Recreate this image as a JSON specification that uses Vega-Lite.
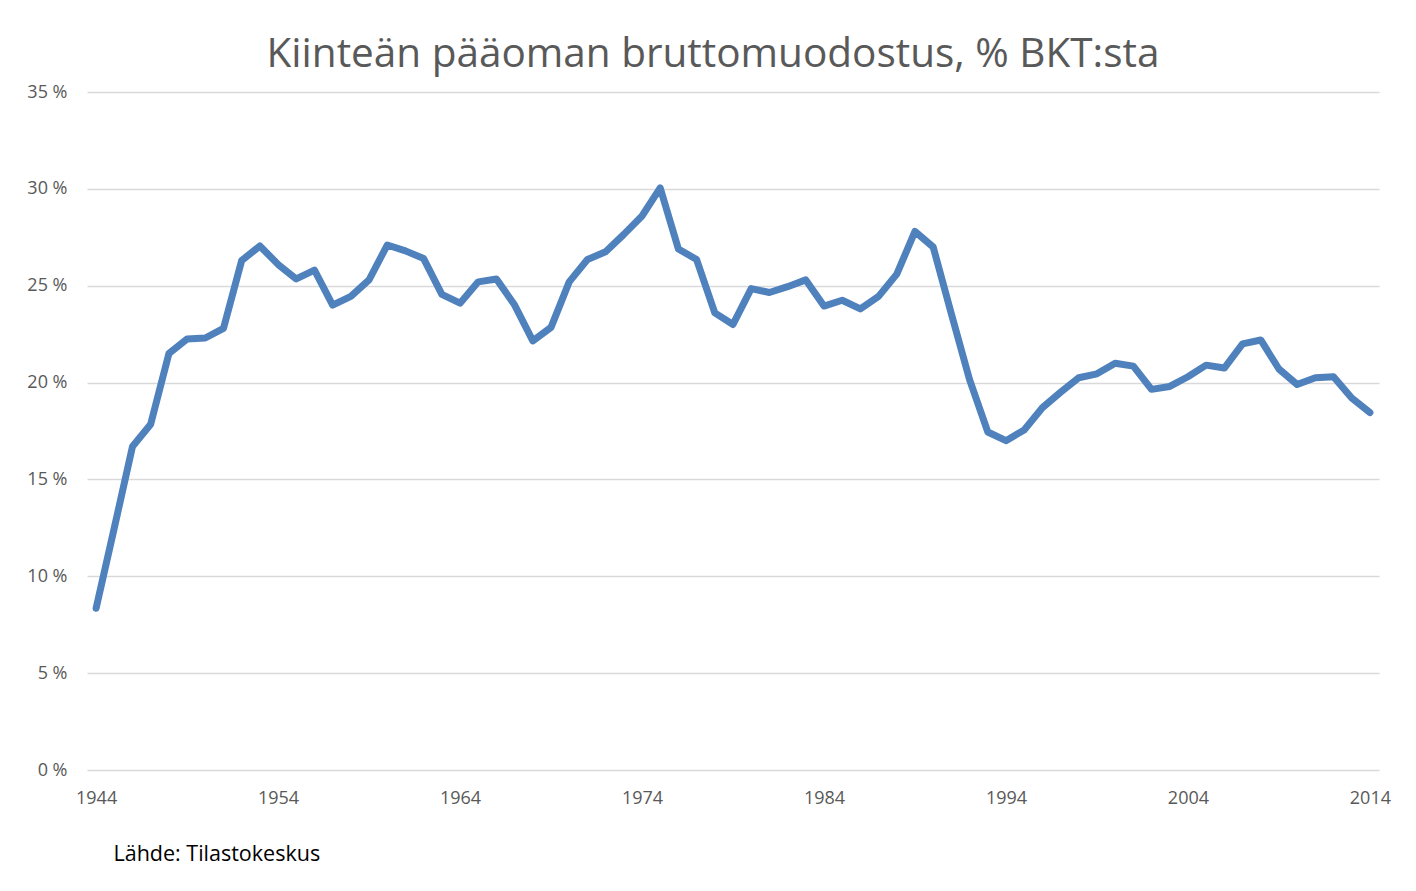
{
  "$schema": "https://vega.github.io/schema/vega-lite/v6.json",
  "autosize": "none",
  "width": 1292,
  "height": 678,
  "padding": {"left": 87, "top": 92, "right": 37, "bottom": 121},
  "background": "white",
  "config": {"view": {"stroke": null}, "font": "Open Sans"},
  "title": {
    "text": "Kiinteän pääoman bruttomuodostus, % BKT:sta",
    "font": "Open Sans",
    "fontSize": 40.5,
    "fontWeight": "normal",
    "color": "#595959",
    "anchor": "middle",
    "dx": -20,
    "offset": 8
  },
  "data": {
    "values": [
      {"year": 1944, "pct": 8.35}, {"year": 1945, "pct": 12.5}, {"year": 1946, "pct": 16.7},
      {"year": 1947, "pct": 17.85}, {"year": 1948, "pct": 21.5}, {"year": 1949, "pct": 22.25},
      {"year": 1950, "pct": 22.3}, {"year": 1951, "pct": 22.8}, {"year": 1952, "pct": 26.3},
      {"year": 1953, "pct": 27.05}, {"year": 1954, "pct": 26.1}, {"year": 1955, "pct": 25.35},
      {"year": 1956, "pct": 25.8}, {"year": 1957, "pct": 24.0}, {"year": 1958, "pct": 24.45},
      {"year": 1959, "pct": 25.3}, {"year": 1960, "pct": 27.1}, {"year": 1961, "pct": 26.8},
      {"year": 1962, "pct": 26.4}, {"year": 1963, "pct": 24.55}, {"year": 1964, "pct": 24.1},
      {"year": 1965, "pct": 25.2}, {"year": 1966, "pct": 25.35}, {"year": 1967, "pct": 24.0},
      {"year": 1968, "pct": 22.15}, {"year": 1969, "pct": 22.85}, {"year": 1970, "pct": 25.2},
      {"year": 1971, "pct": 26.35}, {"year": 1972, "pct": 26.75}, {"year": 1973, "pct": 27.65},
      {"year": 1974, "pct": 28.6}, {"year": 1975, "pct": 30.05}, {"year": 1976, "pct": 26.9},
      {"year": 1977, "pct": 26.35}, {"year": 1978, "pct": 23.6}, {"year": 1979, "pct": 23.0},
      {"year": 1980, "pct": 24.85}, {"year": 1981, "pct": 24.65}, {"year": 1982, "pct": 24.95},
      {"year": 1983, "pct": 25.3}, {"year": 1984, "pct": 23.95}, {"year": 1985, "pct": 24.25},
      {"year": 1986, "pct": 23.8}, {"year": 1987, "pct": 24.45}, {"year": 1988, "pct": 25.6},
      {"year": 1989, "pct": 27.8}, {"year": 1990, "pct": 27.0}, {"year": 1991, "pct": 23.55},
      {"year": 1992, "pct": 20.15}, {"year": 1993, "pct": 17.45}, {"year": 1994, "pct": 17.0},
      {"year": 1995, "pct": 17.55}, {"year": 1996, "pct": 18.7}, {"year": 1997, "pct": 19.5},
      {"year": 1998, "pct": 20.25}, {"year": 1999, "pct": 20.45}, {"year": 2000, "pct": 21.0},
      {"year": 2001, "pct": 20.85}, {"year": 2002, "pct": 19.65}, {"year": 2003, "pct": 19.8},
      {"year": 2004, "pct": 20.3}, {"year": 2005, "pct": 20.9}, {"year": 2006, "pct": 20.75},
      {"year": 2007, "pct": 22.0}, {"year": 2008, "pct": 22.2}, {"year": 2009, "pct": 20.7},
      {"year": 2010, "pct": 19.9}, {"year": 2011, "pct": 20.25}, {"year": 2012, "pct": 20.3},
      {"year": 2013, "pct": 19.2}, {"year": 2014, "pct": 18.45}
    ]
  },
  "mark": {
    "type": "line",
    "color": "#4f81bd",
    "strokeWidth": 7,
    "strokeCap": "round",
    "strokeJoin": "round"
  },
  "encoding": {
    "x": {
      "field": "year",
      "type": "quantitative",
      "scale": {"domain": [1943.5, 2014.5], "nice": false, "zero": false},
      "axis": {
        "values": [1944, 1954, 1964, 1974, 1984, 1994, 2004, 2014],
        "format": "d",
        "grid": false,
        "domain": false,
        "ticks": false,
        "labelFont": "Open Sans",
        "labelFontSize": 18,
        "labelColor": "#595959",
        "labelPadding": 19,
        "title": "Lähde: Tilastokeskus",
        "titleFont": "Open Sans",
        "titleFontSize": 21.5,
        "titleFontWeight": "normal",
        "titleColor": "#000000",
        "titleAnchor": "start",
        "titleAlign": "left",
        "titleBaseline": "middle",
        "titleX": 26,
        "titleY": 84
      }
    },
    "y": {
      "field": "pct",
      "type": "quantitative",
      "scale": {"domain": [0, 35], "nice": false},
      "axis": {
        "values": [0, 5, 10, 15, 20, 25, 30, 35],
        "labelExpr": "datum.value + ' %'",
        "grid": true,
        "gridColor": "#d9d9d9",
        "gridWidth": 1.3,
        "domain": false,
        "ticks": false,
        "labelFont": "Open Sans",
        "labelFontSize": 18,
        "labelColor": "#595959",
        "labelPadding": 20,
        "title": null
      }
    }
  }
}
